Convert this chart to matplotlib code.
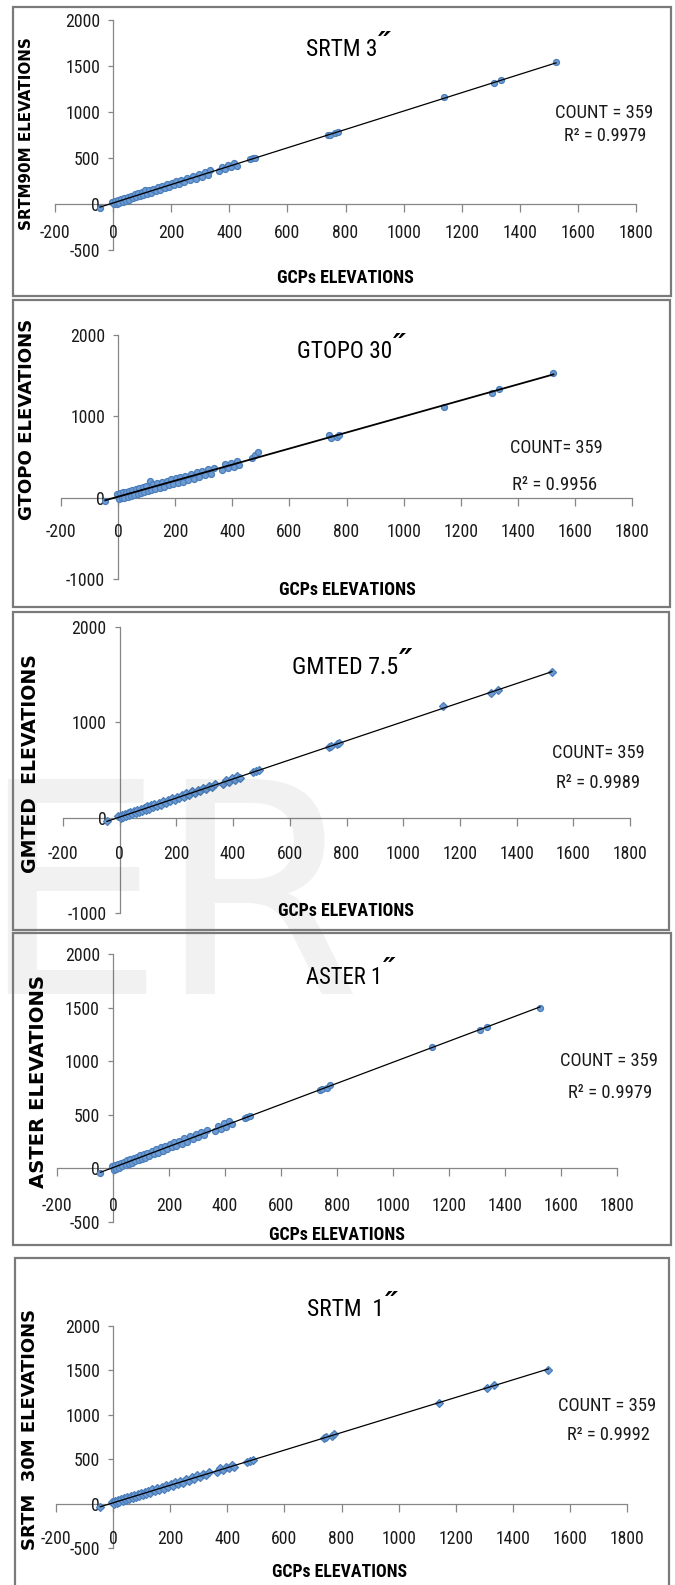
import numpy as np
import matplotlib
matplotlib.use("Agg")
import matplotlib.pyplot as plt
from matplotlib import font_manager as fm
from matplotlib.patches import Rectangle

# ---------------- data ----------------
gcp_elev = [-45, -5, 3, 8, 12, 18, 22, 28, 33, 38, 45, 50, 56, 62, 68, 74, 80, 86, 92, 98,
            104, 110, 116, 122, 130, 138, 146, 154, 162, 170, 178, 186, 194, 202, 210, 218,
            226, 234, 245, 255, 265, 275, 285, 295, 305, 315, 325, 335, 365, 375, 385, 395,
            405, 415, 425, 470, 480, 490, 740, 745, 765, 775, 1140, 1310, 1335, 1525]

srtm3_elev = [-40, 25, -5, 38, 4, 48, 14, 58, 25, 68, 37, 80, 48, 92, 60, 104, 72, 116, 84, 128,
              96, 150, 108, 152, 122, 168, 138, 184, 154, 200, 170, 216, 186, 232, 202, 248,
              218, 264, 237, 285, 257, 305, 277, 325, 297, 345, 317, 365, 357, 405, 377, 425,
              397, 445, 417, 490, 495, 505, 755, 745, 770, 780, 1160, 1310, 1345, 1540]

gtopo30_elev = [-35, 40, -20, 55, -10, 65, 0, 75, 10, 85, 20, 95, 30, 105, 45, 120, 55, 130, 65, 140,
                80, 210, 90, 165, 105, 180, 120, 195, 135, 210, 150, 225, 165, 240, 180, 255,
                195, 270, 215, 290, 235, 310, 255, 330, 275, 350, 295, 370, 340, 410, 360, 430,
                380, 450, 400, 490, 520, 560, 770, 735, 745, 770, 1120, 1290, 1330, 1530]

gmted75_elev = [-35, 15, -5, 28, 4, 38, 14, 48, 25, 58, 37, 70, 48, 82, 60, 94, 72, 106, 84, 118,
                96, 130, 108, 142, 122, 158, 138, 174, 154, 190, 170, 206, 186, 222, 202, 238,
                218, 254, 237, 275, 257, 295, 277, 315, 297, 335, 317, 355, 357, 395, 377, 415,
                397, 435, 417, 480, 488, 500, 740, 755, 775, 780, 1170, 1310, 1340, 1525]

aster1_elev = [-45, 20, -12, 33, -3, 43, 7, 53, 18, 63, 30, 75, 41, 87, 53, 99, 65, 111, 77, 123,
               89, 135, 101, 147, 115, 163, 131, 179, 147, 195, 163, 211, 179, 227, 195, 243,
               211, 259, 230, 280, 250, 300, 270, 320, 290, 340, 310, 360, 350, 400, 370, 420,
               390, 440, 410, 470, 480, 485, 730, 740, 750, 775, 1135, 1290, 1320, 1500]

srtm1_elev = [-40, 17, -5, 30, 4, 40, 14, 50, 25, 60, 37, 72, 48, 84, 60, 96, 72, 108, 84, 120,
              96, 132, 108, 144, 122, 160, 138, 176, 154, 192, 170, 208, 186, 224, 202, 240,
              218, 256, 237, 277, 257, 297, 277, 317, 297, 337, 317, 357, 357, 397, 377, 417,
              397, 437, 417, 470, 485, 495, 740, 750, 760, 780, 1135, 1300, 1340, 1505]

dem_series = [srtm3_elev, gtopo30_elev, gmted75_elev, aster1_elev, srtm1_elev]
panel_titles = ["SRTM 3", "GTOPO 30", "GMTED 7.5", "ASTER 1", "SRTM  1"]
panel_ylabels = ["SRTM90M ELEVATIONS", "GTOPO ELEVATIONS", "GMTED  ELEVATIONS",
                 "ASTER ELEVATIONS", "SRTM  30M ELEVATIONS"]
count_texts = ["COUNT = 359", "COUNT= 359", "COUNT= 359", "COUNT = 359", "COUNT = 359"]
r2_texts = ["R\u00b2 = 0.9979", "R\u00b2 = 0.9956", "R\u00b2 = 0.9989", "R\u00b2 = 0.9979", "R\u00b2 = 0.9992"]
x_label = "GCPs ELEVATIONS"
x_tick_values = list(range(-200, 1801, 200))
y_limits = [(-500, 2000), (-1000, 2000), (-1000, 2000), (-500, 2000), (-500, 2000)]
y_tick_steps = [500, 1000, 1000, 500, 500]

# ---------------- layout (pixels from top-left) ----------------
W, H, DPI = 675, 1585, 100
axes_px = [(55, 636, 20, 250), (61, 632, 335, 579), (63, 630, 627, 913),
           (57, 617, 954, 1222), (56, 627, 1326, 1548)]
boxes_px = [(13, 671, 7, 296), (13, 670, 300, 607), (13, 669, 612, 930),
            (13, 671, 933, 1245), (15, 669, 1258, 1620)]
title_px = [(306, 50, 59), (297, 352, 79), (292, 668, 88), (306, 977, 63), (307, 1310, 64)]
count_px = [(604, 113, 88), (556, 448, 83), (598, 753, 83), (609, 1061, 87), (607, 1406, 88)]
r2_px = [(605, 136, 74), (555, 485, 76), (598, 783, 75), (610, 1093, 75), (608, 1435, 74)]
xlab_px = [(345, 278, 119), (347, 590, 119), (346, 911, 118), (337, 1235, 118), (339, 1572, 117)]
ylab_px = [(27, 134, 192), (27, 419, 202), (31, 764, 218), (39, 1082, 213), (30, 1429, 242)]
xlabel_offsets = [26, 32, 34, 35, 33]
markers = ["o", "o", "D", "o", "D"]
GROW = 1.12  # reference glyphs are taller than their width suggests


def has_font(name):
    try:
        fm.findfont(fm.FontProperties(family=name), fallback_to_default=False)
        return True
    except Exception:
        return False


narrow = None
for cand in ["Liberation Sans Narrow", "Arial Narrow", "Roboto Condensed",
             "Open Sans Condensed", "Noto Sans Condensed", "DejaVu Sans Condensed"]:
    if has_font(cand):
        narrow = cand
        break
if narrow is None:
    narrow = "Roboto" if has_font("Roboto") else "DejaVu Sans"

plt.rcParams["font.family"] = [narrow, "DejaVu Sans"]
plt.rcParams["axes.unicode_minus"] = False

fig = plt.figure(figsize=(W / DPI, H / DPI), dpi=DPI)
fig.patch.set_facecolor("white")


def fx(x):
    return x / W


def fy(y):
    return 1 - y / H


fig.canvas.draw()
renderer = fig.canvas.get_renderer()


def fit(t, target, vertical=False, grow=GROW):
    t.set_fontsize(12)
    bb = t.get_window_extent(renderer)
    size = bb.height if vertical else bb.width
    t.set_fontsize(12 * target / size * grow)
    return t


# watermark
fig.text(fx(-22), fy(994), "E", fontsize=212, family="DejaVu Sans", color="black",
         alpha=0.055, va="baseline", ha="left", zorder=0)
fig.text(fx(156), fy(994), "R", fontsize=212, family="DejaVu Sans", color="black",
         alpha=0.055, va="baseline", ha="left", zorder=0)

# tick label size from the width of "1800"
probe = fig.text(0.5, 0.5, "1800")
fit(probe, 32, grow=1.08)
tick_size = probe.get_fontsize()
probe.remove()
em_px = tick_size * DPI / 72.0

axis_col = "#868686"
for i in range(5):
    L, R, T, B = axes_px[i]
    ax = fig.add_axes([fx(L), fy(B), (R - L) / W, (B - T) / H])
    ax.patch.set_alpha(0)
    ax.set_xlim(-200, 1800)
    ax.set_ylim(*y_limits[i])
    for s in ["top", "right"]:
        ax.spines[s].set_visible(False)
    for s in ["left", "bottom"]:
        ax.spines[s].set_position(("data", 0))
        ax.spines[s].set_color(axis_col)
        ax.spines[s].set_linewidth(0.9)
        ax.spines[s].set_zorder(1)
    ax.set_xticks(x_tick_values)
    ax.set_xticklabels([str(v) for v in x_tick_values])
    yt = list(range(y_limits[i][0], y_limits[i][1] + 1, y_tick_steps[i]))
    ax.set_yticks(yt)
    ax.set_yticklabels([str(v) for v in yt])
    xlen_px = 8
    pad_px = xlabel_offsets[i] - xlen_px - 0.36 * em_px
    ax.tick_params(axis="x", direction="out", length=xlen_px * 0.72, width=0.9, color=axis_col,
                   pad=max(pad_px, 1) * 0.72, labelsize=tick_size, labelcolor="#1a1a1a")
    ax.tick_params(axis="y", direction="out", length=5 * 0.72, width=0.9, color=axis_col,
                   pad=8 * 0.72, labelsize=tick_size, labelcolor="#1a1a1a")

    x = np.array(gcp_elev, dtype=float)
    y = np.array(dem_series[i], dtype=float)
    ax.plot(x, y, linestyle="none", marker=markers[i], ms=4.3 if markers[i] == "o" else 3.8,
            mfc="#6E9BD3", mec="#4A7EBB", mew=0.9, zorder=3, clip_on=False)
    coef = np.polyfit(x, y, 1)
    xs = np.array([x.min(), x.max()])
    ax.plot(xs, np.polyval(coef, xs), color="black", lw=1.3 if i == 1 else 0.9, zorder=4)

    # box around the panel
    bl, br, bt, bb_ = boxes_px[i]
    fig.patches.append(Rectangle((fx(bl), fy(bb_)), (br - bl) / W, (bb_ - bt) / H,
                                 transform=fig.transFigure, fill=False, ec="#7a7a7a", lw=1.6,
                                 zorder=5))

    # title
    tx, ty, tw = title_px[i]
    t = fig.text(fx(tx), fy(ty), panel_titles[i], ha="left", va="center", color="black")
    fit(t, tw, grow=1.2)
    tb = t.get_window_extent(renderer)
    fig.text((tb.x1 + 1) / W, (tb.y1 + 9) / H, "\u2033", ha="left", va="top",
             fontsize=t.get_fontsize() * 1.25, family="DejaVu Sans", style="italic",
             weight="bold", color="black")

    cx, cy, cw = count_px[i]
    fit(fig.text(fx(cx), fy(cy), count_texts[i], ha="center", va="center", color="#1a1a1a"), cw)
    rx, ry, rw = r2_px[i]
    fit(fig.text(fx(rx), fy(ry), r2_texts[i], ha="center", va="center", color="#1a1a1a"), rw)

    lx, ly, lw_ = xlab_px[i]
    fit(fig.text(fx(lx), fy(ly), x_label, ha="center", va="center", weight="bold",
                 color="black"), lw_, grow=1.15)
    yx, yy, yl = ylab_px[i]
    fit(fig.text(fx(yx), fy(yy), panel_ylabels[i], ha="center", va="center", rotation=90,
                 weight="bold", family="DejaVu Sans", color="black"), yl, vertical=True, grow=1.0)

fig.savefig("out.png", dpi=DPI)
